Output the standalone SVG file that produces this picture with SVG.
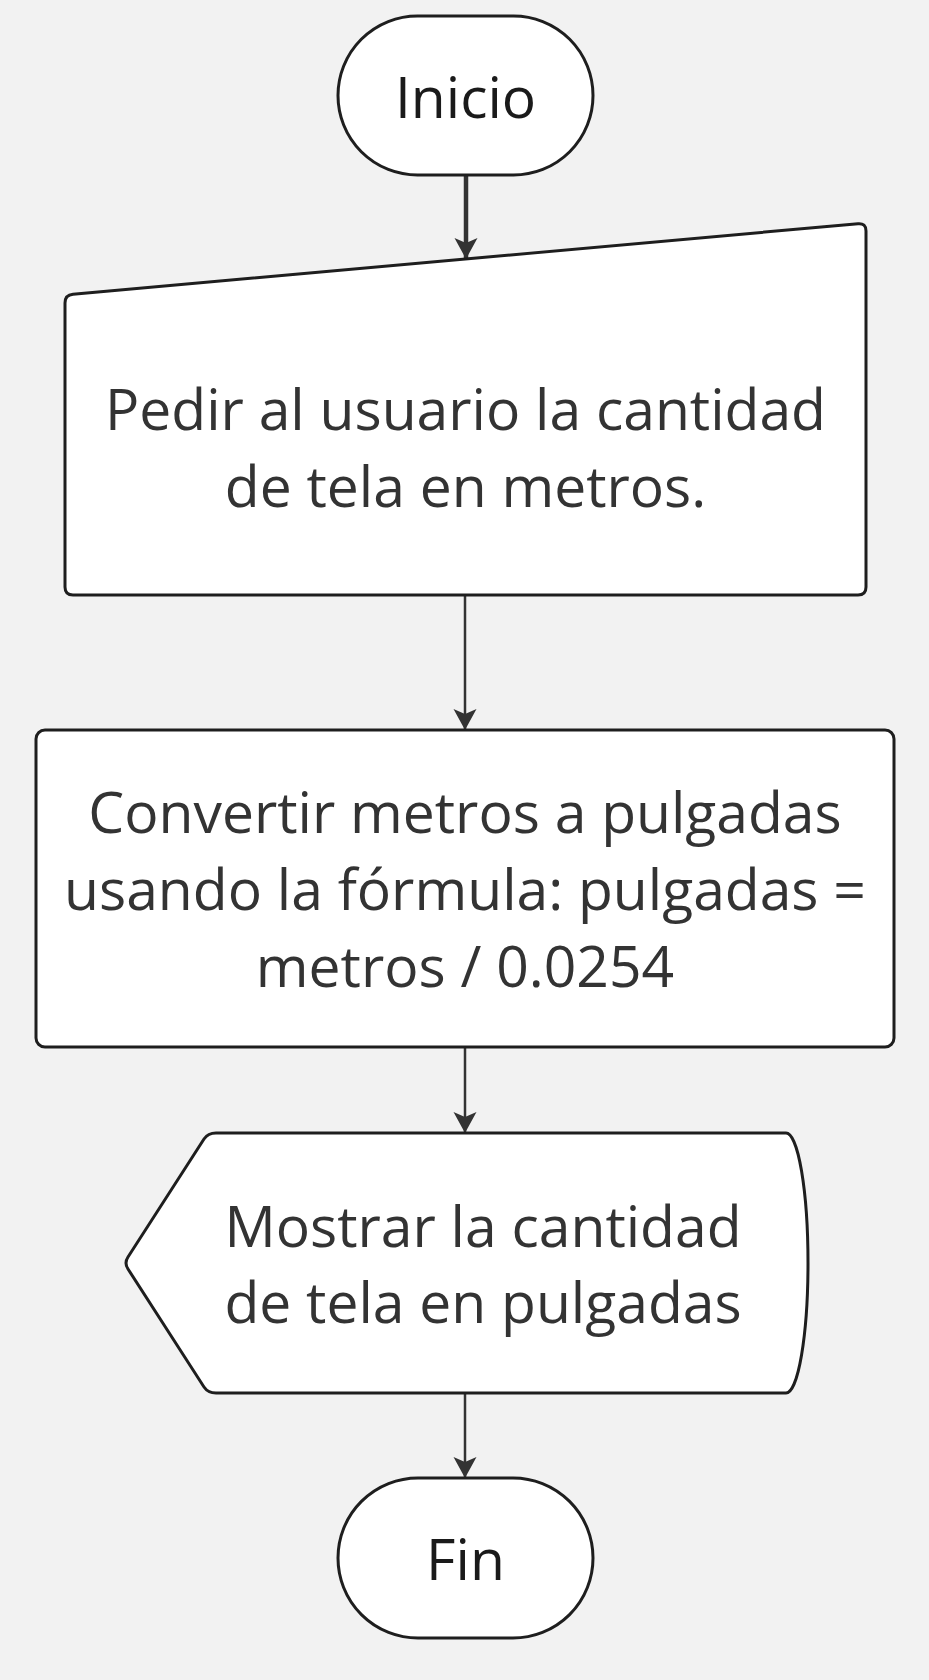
<svg xmlns="http://www.w3.org/2000/svg" width="929" height="1680" viewBox="0 0 929 1680">
<style>
.shape{fill:#ffffff;stroke:#1e1e1e;stroke-width:3}
.txt{font-family:"Open Sans","Liberation Sans",sans-serif;font-size:57px;fill:#333333;text-anchor:middle}
.term{font-family:"Open Sans","Liberation Sans",sans-serif;font-size:57px;fill:#1a1a1a;text-anchor:middle}
.conn{stroke:#333333;stroke-width:2.5;fill:none;marker-end:url(#arrow)}
</style>
<defs>
<marker id="arrow" markerUnits="userSpaceOnUse" markerWidth="24" markerHeight="24" viewBox="0 0 22 24" refX="21" refY="12" orient="auto">
<path d="M0,0.5 L21,12 L0,23.5 L5,12 Z" fill="#333333"/>
</marker>
</defs>
<rect x="0" y="0" width="929" height="1680" fill="#f2f2f2"/>
<g id="connectors">
<line class="conn" x1="466" y1="175" x2="466" y2="259" style="stroke-width:4.5"/>
<line class="conn" x1="465" y1="595" x2="465" y2="730"/>
<line class="conn" x1="465" y1="1047" x2="465" y2="1133"/>
<line class="conn" x1="465" y1="1393" x2="465" y2="1478"/>
</g>
<g id="inicio">
<rect class="shape" x="338" y="16" width="255" height="159" rx="79.5" ry="79.5"/>
<text class="term" x="465.5" y="118">Inicio</text>
</g>
<g id="pedir">
<path class="shape" d="M65,303 Q65,295 73,294.3 L858,223.7 Q866,223 866,231 L866,587 Q866,595 858,595 L73,595 Q65,595 65,587 Z"/>
<text class="txt" x="465.5" y="430">Pedir al usuario la cantidad</text>
<text class="txt" x="465.5" y="507">de tela en metros.</text>
</g>
<g id="convertir">
<rect class="shape" x="36" y="730" width="858" height="317" rx="9" ry="9"/>
<text class="txt" x="465" y="833">Convertir metros a pulgadas</text>
<text class="txt" x="465" y="910">usando la fórmula: pulgadas =</text>
<text class="txt" x="465" y="987">metros / 0.0254</text>
</g>
<g id="mostrar">
<path class="shape" d="M216,1133 L786,1133 A22,130 0 0 1 786,1393 L216,1393 Q208,1393 204,1387 L128,1269 Q124,1263 128,1257 L204,1139 Q208,1133 216,1133 Z"/>
<text class="txt" x="483" y="1247">Mostrar la cantidad</text>
<text class="txt" x="483" y="1323">de tela en pulgadas</text>
</g>
<g id="fin">
<rect class="shape" x="338" y="1478" width="255" height="160" rx="80" ry="80"/>
<text class="term" x="465.5" y="1580">Fin</text>
</g>
</svg>
